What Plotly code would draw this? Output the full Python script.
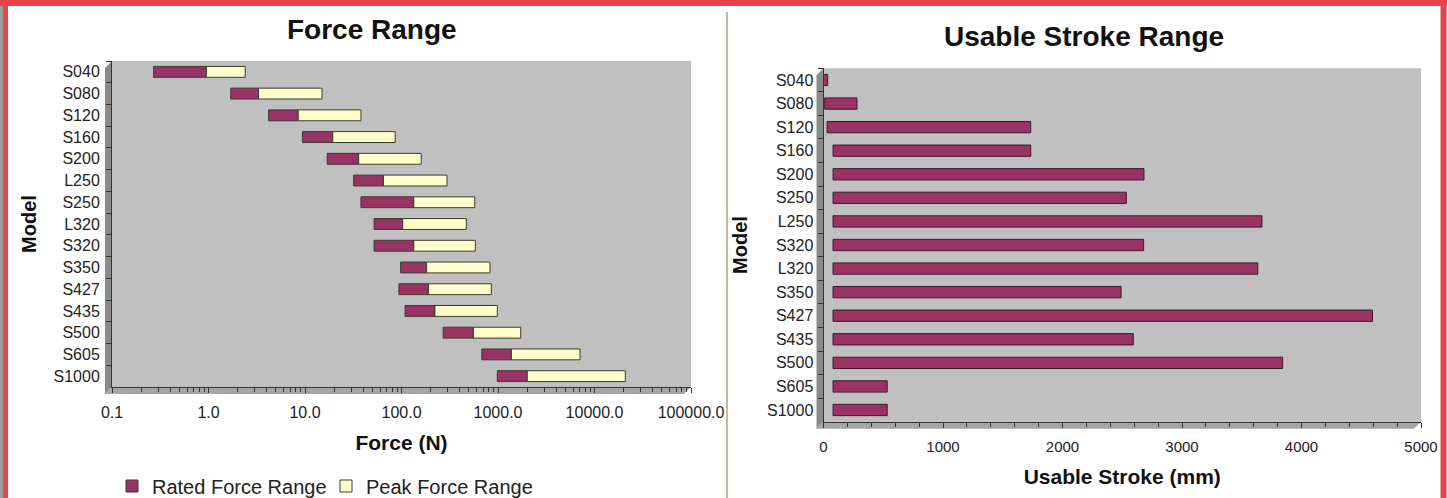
import numpy as np
import plotly.graph_objects as go

W, H = 1447, 498

# ---------------- data ----------------
force_models = ["S040", "S080", "S120", "S160", "S200", "L250", "S250", "L320",
                "S320", "S350", "S427", "S435", "S500", "S605", "S1000"]
rated_min = [0.27, 1.7, 4.2, 9.4, 17, 32, 38, 52, 52, 98, 94, 109, 270, 680, 985]
rated_max = [0.95, 3.3, 8.5, 19.4, 36, 65, 134, 103, 134, 182, 190, 222, 555, 1375, 2010]
peak_max = [2.4, 15, 38, 86, 160, 296, 574, 470, 582, 826, 853, 984, 1720, 7075, 20850]

stroke_models = ["S040", "S080", "S120", "S160", "S200", "S250", "L250", "S320",
                 "L320", "S350", "S427", "S435", "S500", "S605", "S1000"]
stroke_min = [0, 10, 30, 80, 80, 80, 80, 80, 80, 80, 80, 80, 80, 80, 80]
stroke_max = [35, 280, 1734, 1734, 2682, 2534, 3669, 2679, 3634, 2490, 4594, 2592, 3842, 533, 533]

force_tickvals = [0.1, 1, 10, 100, 1000, 10000, 100000]
force_ticktext = ["0.1", "1.0", "10.0", "100.0", "1000.0", "10000.0", "100000.0"]

# ---------------- style ----------------
FONT = "Arial, 'Liberation Sans', sans-serif"
MAROON = "#993366"
CREAM = "#FFFFCC"
WALL = "#C0C0C0"
EDGE = "#3a3a2a"
TXT = "#222222"


def px(x):
    return x / W


def py(y):
    return 1 - y / H


fig = go.Figure()

# Force range: floating stacked bars
fig.add_trace(go.Bar(
    y=force_models, x=np.array(rated_max) - np.array(rated_min), base=rated_min,
    orientation="h", name="Rated Force Range", marker=dict(color=MAROON, line=dict(color=EDGE, width=1)),
    width=0.5, xaxis="x", yaxis="y"))
fig.add_trace(go.Bar(
    y=force_models, x=np.array(peak_max) - np.array(rated_max), base=rated_max,
    orientation="h", name="Peak Force Range", marker=dict(color=CREAM, line=dict(color=EDGE, width=1)),
    width=0.5, xaxis="x", yaxis="y"))

# Usable stroke range
fig.add_trace(go.Bar(
    y=stroke_models, x=np.array(stroke_max) - np.array(stroke_min), base=stroke_min,
    orientation="h", name="Usable Stroke", showlegend=False,
    marker=dict(color=MAROON, line=dict(color="#3a1a2a", width=1)),
    width=0.48, xaxis="x2", yaxis="y2"))

minor_vals = [m * 10.0 ** e for e in range(-1, 5) for m in range(2, 10)]

axis_common = dict(showgrid=False, zeroline=False, showline=True, linecolor="#333333",
                   ticks="outside", tickcolor="#333333", ticklen=5, automargin=False,
                   tickfont=dict(family=FONT, size=16, color=TXT))

fig.update_layout(
    width=W, height=H,
    margin=dict(l=0, r=0, t=0, b=0, autoexpand=False),
    paper_bgcolor="white", plot_bgcolor=WALL,
    barmode="overlay",
    font=dict(family=FONT, color=TXT),
    xaxis=dict(axis_common, domain=[px(112), px(691)], type="log", range=[-1, 5],
               tickvals=force_tickvals, ticktext=force_ticktext, ticklabelstandoff=6,
               minor=dict(tickvals=minor_vals, ticks="outside", ticklen=4, tickcolor="#333333", showgrid=False),
               title=dict(text="<b>Force (N)</b>", font=dict(family=FONT, size=21, color="#111"), standoff=15),
               anchor="y"),
    yaxis=dict(axis_common, domain=[py(387), py(61)], type="category", autorange="reversed",
               tickson="boundaries", ticklabelstandoff=8,
               title=dict(text="<b>Model</b>", font=dict(family=FONT, size=20, color="#111"), standoff=11),
               anchor="x"),
    xaxis2=dict(axis_common, domain=[px(823.5), px(1421)], range=[0, 5000], dtick=1000,
                ticklabelstandoff=6, tickfont=dict(family=FONT, size=15, color=TXT),
                minor=dict(dtick=200, ticks="outside", ticklen=4, tickcolor="#333333", showgrid=False),
                title=dict(text="<b>Usable Stroke (mm)</b>", font=dict(family=FONT, size=21, color="#111"), standoff=15),
                anchor="y2"),
    yaxis2=dict(axis_common, domain=[py(421.8), py(68.2)], type="category", autorange="reversed",
                tickson="boundaries", ticklabelstandoff=6,
                title=dict(text="<b>Model</b>", font=dict(family=FONT, size=20, color="#111"), standoff=14),
                anchor="x2"),
    legend=dict(orientation="h", x=px(112), xanchor="left", y=py(486), yanchor="middle",
                font=dict(family=FONT, size=20, color=TXT), bgcolor="rgba(0,0,0,0)",
                itemwidth=30, entrywidth=169, traceorder="normal"),
    annotations=[
        dict(text="<b>Force Range</b>", x=px(372), y=py(30), xref="paper", yref="paper",
             xanchor="center", yanchor="middle",
             showarrow=False, font=dict(family=FONT, size=28, color="#111")),
        dict(text="<b>Usable Stroke Range</b>", x=px(1084), y=py(36), xref="paper", yref="paper",
             xanchor="center", yanchor="middle",
             showarrow=False, font=dict(family=FONT, size=28, color="#111")),
    ],
)

shapes = []
# 3D side walls and floors (decoration)
for (x0, x1, yt, yb) in [(112, 691, 61, 387), (823.5, 1421, 68.2, 421.8)]:
    d = 7
    shapes.append(dict(type="path", xref="paper", yref="paper", layer="below",
                       path=f"M {px(x0-d)} {py(yt+d)} L {px(x0)} {py(yt)} L {px(x0)} {py(yb)} L {px(x0-d)} {py(yb+d)} Z",
                       fillcolor="#8a8a8a", line=dict(width=0)))
    shapes.append(dict(type="path", xref="paper", yref="paper", layer="below",
                       path=f"M {px(x0-d)} {py(yb+d)} L {px(x0)} {py(yb)} L {px(x1)} {py(yb)} L {px(x1-d)} {py(yb+d)} Z",
                       fillcolor="#a6a6a6", line=dict(width=0)))
# separator between panels
shapes.append(dict(type="line", xref="paper", yref="paper", x0=px(727), x1=px(727), y0=py(12), y1=0,
                   line=dict(color="#C8B894", width=2)))
# red frame (top, left, right)
RED = "#E8434B"
shapes.append(dict(type="line", xref="paper", yref="paper", x0=0, x1=1, y0=py(3), y1=py(3),
                   line=dict(color=RED, width=6)))
shapes.append(dict(type="line", xref="paper", yref="paper", x0=px(5.5), x1=px(5.5), y0=0, y1=1,
                   line=dict(color=RED, width=5)))
shapes.append(dict(type="line", xref="paper", yref="paper", x0=px(1443.5), x1=px(1443.5), y0=0, y1=1,
                   line=dict(color=RED, width=6)))
shapes.append(dict(type="line", xref="paper", yref="paper", x0=px(1.5), x1=px(1.5), y0=0, y1=py(6),
                   line=dict(color="#9a9a9a", width=3)))
fig.update_layout(shapes=shapes)

fig.write_html("out.html")
